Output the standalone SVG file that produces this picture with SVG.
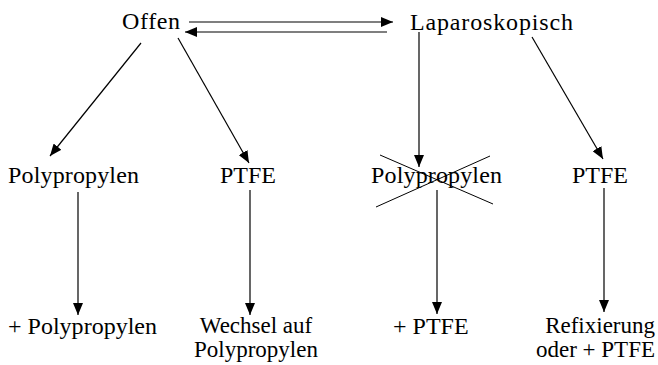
<svg xmlns="http://www.w3.org/2000/svg" width="658" height="365" viewBox="0 0 658 365">
  <style>
    text { font-family: "Liberation Serif", "DejaVu Serif", "Times New Roman", serif; font-size: 24px; fill: #000; }
    text.two { font-size: 23px; }
    .edge { stroke: #000; stroke-width: 1.2; fill: none; }
    .cross { stroke: #000; stroke-width: 1; fill: none; }
  </style>
  <defs>
    <marker id="arrow" viewBox="0 0 12 10" refX="12" refY="5" markerWidth="12" markerHeight="10" markerUnits="userSpaceOnUse" orient="auto">
      <path d="M0,0 L12,5 L0,10 Z" fill="#000"/>
    </marker>
  </defs>
  <rect width="658" height="365" fill="#fff"/>

  <g id="connectors">
    <line class="edge" x1="189" y1="22" x2="393" y2="22" marker-end="url(#arrow)"/>
    <line class="edge" x1="387" y1="32" x2="185" y2="32" marker-end="url(#arrow)"/>
    <line class="edge" x1="141" y1="43" x2="50" y2="156" marker-end="url(#arrow)"/>
    <line class="edge" x1="178" y1="38" x2="249" y2="163" marker-end="url(#arrow)"/>
    <line class="edge" x1="419" y1="32" x2="419" y2="167" marker-end="url(#arrow)"/>
    <line class="edge" x1="532" y1="37" x2="603" y2="159" marker-end="url(#arrow)"/>
    <line class="edge" x1="78" y1="192" x2="78" y2="315" marker-end="url(#arrow)"/>
    <line class="edge" x1="250" y1="190" x2="250" y2="315" marker-end="url(#arrow)"/>
    <line class="edge" x1="437" y1="190" x2="437" y2="314" marker-end="url(#arrow)"/>
    <line class="edge" x1="604" y1="188" x2="604" y2="312" marker-end="url(#arrow)"/>
  </g>

  <g id="offen"><text x="122" y="29" textLength="58">Offen</text></g>
  <g id="laparoskopisch"><text x="410" y="30" textLength="163">Laparoskopisch</text></g>

  <g id="offen-polypropylen"><text x="8" y="183" textLength="131">Polypropylen</text></g>
  <g id="offen-ptfe"><text x="220" y="183">PTFE</text></g>
  <g id="lap-polypropylen">
    <text x="371" y="183" textLength="131">Polypropylen</text>
    <line class="cross" x1="380" y1="155" x2="493" y2="204"/>
    <line class="cross" x1="490" y1="156" x2="376" y2="207"/>
  </g>
  <g id="lap-ptfe"><text x="572" y="183">PTFE</text></g>

  <g id="plus-polypropylen"><text x="8" y="334" textLength="149">+ Polypropylen</text></g>
  <g id="wechsel">
    <text class="two" x="256" y="333" text-anchor="middle">Wechsel auf</text>
    <text class="two" x="256" y="357" text-anchor="middle">Polypropylen</text>
  </g>
  <g id="plus-ptfe"><text x="393" y="334">+ PTFE</text></g>
  <g id="refixierung">
    <text class="two" x="655" y="333" text-anchor="end">Refixierung</text>
    <text class="two" x="655" y="357" text-anchor="end">oder + PTFE</text>
  </g>
</svg>
